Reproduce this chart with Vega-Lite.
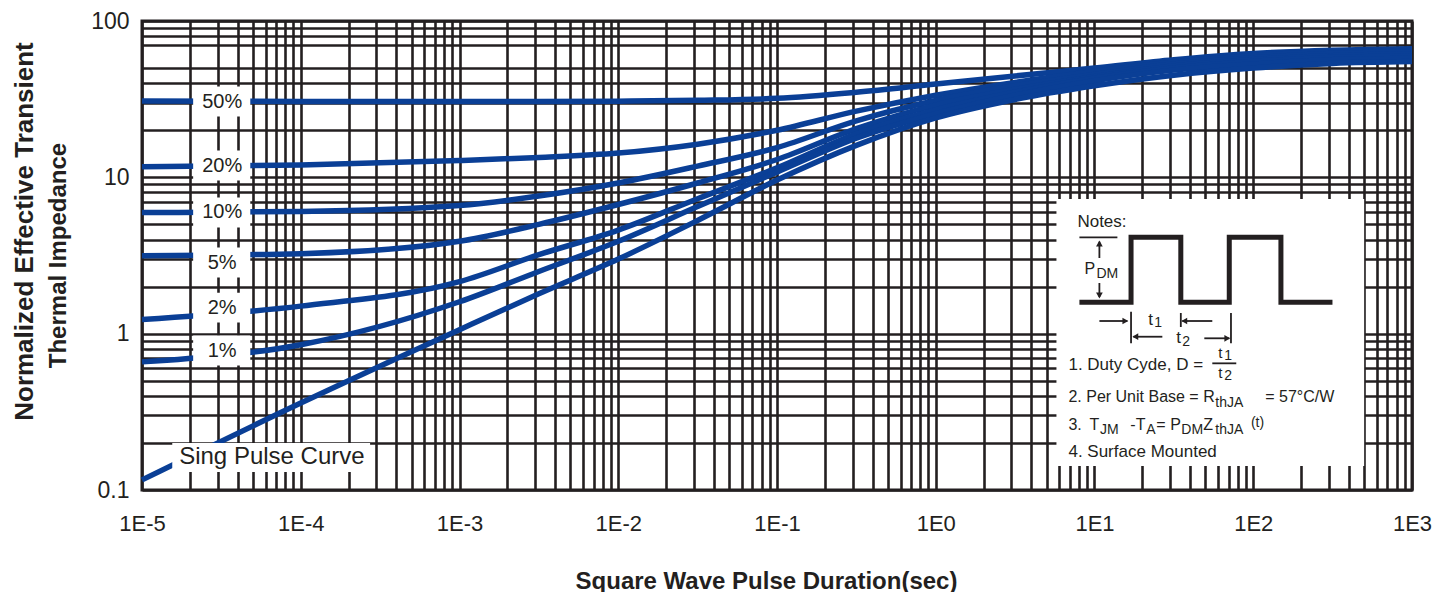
{
  "$schema": "https://vega.github.io/schema/vega-lite/v6.json",
  "width": 1270,
  "height": 469,
  "autosize": {"type": "none"},
  "padding": {"left": 142, "top": 21, "right": 20, "bottom": 102},
  "background": "white",
  "config": {
    "view": {"stroke": "#231f20", "strokeWidth": 3},
    "font": "Liberation Sans",
    "text": {"font": "Liberation Sans", "color": "#231f20"}
  },
  "title": {
    "text": "Normalized Effective Transient",
    "orient": "left",
    "anchor": "middle",
    "font": "Liberation Sans",
    "fontSize": 26,
    "fontWeight": "bold",
    "color": "#231f20",
    "offset": 8,
    "dx": 24
  },
  "datasets": {
    "curves": [
      {"series": "50%", "t": 0.00001, "z": 30.8}, {"series": "50%", "t": 0.0001, "z": 30.6}, {"series": "50%", "t": 0.001, "z": 30.5}, {"series": "50%", "t": 0.00316, "z": 30.5}, {"series": "50%", "t": 0.01, "z": 30.7}, {"series": "50%", "t": 0.0316, "z": 31.1}, {"series": "50%", "t": 0.1, "z": 32.0}, {"series": "50%", "t": 0.316, "z": 35.0}, {"series": "50%", "t": 1, "z": 39.5}, {"series": "50%", "t": 3.16, "z": 44.5}, {"series": "50%", "t": 10, "z": 50.0}, {"series": "50%", "t": 31.6, "z": 56.5}, {"series": "50%", "t": 100, "z": 62.0}, {"series": "50%", "t": 316, "z": 65.0}, {"series": "50%", "t": 1000, "z": 66.5},
      {"series": "20%", "t": 0.00001, "z": 11.7}, {"series": "20%", "t": 0.0001, "z": 12.0}, {"series": "20%", "t": 0.001, "z": 12.8}, {"series": "20%", "t": 0.00316, "z": 13.4}, {"series": "20%", "t": 0.01, "z": 14.3}, {"series": "20%", "t": 0.0316, "z": 16.3}, {"series": "20%", "t": 0.1, "z": 20.0}, {"series": "20%", "t": 0.316, "z": 26.5}, {"series": "20%", "t": 1, "z": 33.5}, {"series": "20%", "t": 3.16, "z": 40.5}, {"series": "20%", "t": 10, "z": 47.5}, {"series": "20%", "t": 31.6, "z": 54.5}, {"series": "20%", "t": 100, "z": 60.0}, {"series": "20%", "t": 316, "z": 63.5}, {"series": "20%", "t": 1000, "z": 64.5},
      {"series": "10%", "t": 0.00001, "z": 5.95}, {"series": "10%", "t": 0.0001, "z": 6.05}, {"series": "10%", "t": 0.001, "z": 6.6}, {"series": "10%", "t": 0.00316, "z": 7.6}, {"series": "10%", "t": 0.01, "z": 9.2}, {"series": "10%", "t": 0.0316, "z": 11.8}, {"series": "10%", "t": 0.1, "z": 15.5}, {"series": "10%", "t": 0.316, "z": 23.0}, {"series": "10%", "t": 1, "z": 31.0}, {"series": "10%", "t": 3.16, "z": 38.5}, {"series": "10%", "t": 10, "z": 45.5}, {"series": "10%", "t": 31.6, "z": 53.0}, {"series": "10%", "t": 100, "z": 58.0}, {"series": "10%", "t": 316, "z": 62.0}, {"series": "10%", "t": 1000, "z": 63.0},
      {"series": "5%", "t": 0.00001, "z": 3.15}, {"series": "5%", "t": 0.0001, "z": 3.25}, {"series": "5%", "t": 0.001, "z": 3.9}, {"series": "5%", "t": 0.00316, "z": 5.0}, {"series": "5%", "t": 0.01, "z": 6.7}, {"series": "5%", "t": 0.0316, "z": 9.2}, {"series": "5%", "t": 0.1, "z": 13.0}, {"series": "5%", "t": 0.316, "z": 20.5}, {"series": "5%", "t": 1, "z": 29.0}, {"series": "5%", "t": 3.16, "z": 36.5}, {"series": "5%", "t": 10, "z": 44.0}, {"series": "5%", "t": 31.6, "z": 51.5}, {"series": "5%", "t": 100, "z": 56.5}, {"series": "5%", "t": 316, "z": 60.0}, {"series": "5%", "t": 1000, "z": 61.5},
      {"series": "2%", "t": 0.00001, "z": 1.23}, {"series": "2%", "t": 0.0001, "z": 1.5}, {"series": "2%", "t": 0.001, "z": 2.15}, {"series": "2%", "t": 0.00316, "z": 3.2}, {"series": "2%", "t": 0.01, "z": 4.6}, {"series": "2%", "t": 0.0316, "z": 7.3}, {"series": "2%", "t": 0.1, "z": 11.5}, {"series": "2%", "t": 0.316, "z": 19.0}, {"series": "2%", "t": 1, "z": 27.0}, {"series": "2%", "t": 3.16, "z": 35.0}, {"series": "2%", "t": 10, "z": 43.0}, {"series": "2%", "t": 31.6, "z": 50.0}, {"series": "2%", "t": 100, "z": 55.0}, {"series": "2%", "t": 316, "z": 58.5}, {"series": "2%", "t": 1000, "z": 59.5},
      {"series": "1%", "t": 0.00001, "z": 0.66}, {"series": "1%", "t": 0.0001, "z": 0.85}, {"series": "1%", "t": 0.001, "z": 1.6}, {"series": "1%", "t": 0.00316, "z": 2.5}, {"series": "1%", "t": 0.01, "z": 3.9}, {"series": "1%", "t": 0.0316, "z": 6.5}, {"series": "1%", "t": 0.1, "z": 10.8}, {"series": "1%", "t": 0.316, "z": 17.8}, {"series": "1%", "t": 1, "z": 25.5}, {"series": "1%", "t": 3.16, "z": 33.5}, {"series": "1%", "t": 10, "z": 41.5}, {"series": "1%", "t": 31.6, "z": 48.5}, {"series": "1%", "t": 100, "z": 53.0}, {"series": "1%", "t": 316, "z": 56.5}, {"series": "1%", "t": 1000, "z": 57.5},
      {"series": "single", "t": 0.00001, "z": 0.116}, {"series": "single", "t": 0.0001, "z": 0.36}, {"series": "single", "t": 0.001, "z": 1.06}, {"series": "single", "t": 0.00316, "z": 1.8}, {"series": "single", "t": 0.01, "z": 3.0}, {"series": "single", "t": 0.0316, "z": 5.3}, {"series": "single", "t": 0.1, "z": 9.6}, {"series": "single", "t": 0.316, "z": 16.0}, {"series": "single", "t": 1, "z": 24.0}, {"series": "single", "t": 3.16, "z": 31.5}, {"series": "single", "t": 10, "z": 38.5}, {"series": "single", "t": 31.6, "z": 45.0}, {"series": "single", "t": 100, "z": 50.0}, {"series": "single", "t": 316, "z": 53.5}, {"series": "single", "t": 1000, "z": 55.0}
    ],
    "boxes": [
      {"t": 0.0000210, "t2": 0.0000481, "z": 38.1, "z2": 24.5},
      {"t": 0.0000210, "t2": 0.0000481, "z": 14.85, "z2": 9.54},
      {"t": 0.0000210, "t2": 0.0000481, "z": 7.43, "z2": 4.78},
      {"t": 0.0000210, "t2": 0.0000481, "z": 3.56, "z2": 2.29},
      {"t": 0.0000210, "t2": 0.0000481, "z": 1.83, "z2": 1.18},
      {"t": 0.0000210, "t2": 0.0000481, "z": 0.973, "z2": 0.626},
      {"t": 0.00001551, "t2": 0.0002734, "z": 0.1998, "z2": 0.1303},
      {"t": 5.758, "t2": 499.6, "z": 7.268, "z2": 0.1423}
    ],
    "labels": [
      {"txt": "50%", "t": 0.000032, "z": 30.55},
      {"txt": "20%", "t": 0.000032, "z": 11.9},
      {"txt": "10%", "t": 0.000032, "z": 5.96},
      {"txt": "5%", "t": 0.000032, "z": 2.85},
      {"txt": "2%", "t": 0.000032, "z": 1.47},
      {"txt": "1%", "t": 0.000032, "z": 0.78}
    ],
    "single": [
      {"txt": "Sing Pulse Curve", "t": 0.0000658, "z": 0.1626}
    ],
    "wave": [
      {"i": 0, "t": 8.035, "z": 1.587},
      {"i": 1, "t": 16.99, "z": 1.587},
      {"i": 2, "t": 16.99, "z": 4.134},
      {"i": 3, "t": 34.97, "z": 4.134},
      {"i": 4, "t": 34.97, "z": 1.587},
      {"i": 5, "t": 70.62, "z": 1.587},
      {"i": 6, "t": 70.62, "z": 4.134},
      {"i": 7, "t": 149.4, "z": 4.134},
      {"i": 8, "t": 149.4, "z": 1.587},
      {"i": 9, "t": 315.5, "z": 1.587}
    ],
    "rules": [
      {"t": 8.035, "t2": 13.937, "z": 4.134, "z2": 4.134},
      {"t": 10.736, "t2": 10.736, "z": 3.875, "z2": 3.048},
      {"t": 10.736, "t2": 10.736, "z": 2.109, "z2": 1.716},
      {"t": 16.99, "t2": 16.99, "z": 1.382, "z2": 0.868},
      {"t": 34.97, "t2": 34.97, "z": 1.356, "z2": 1.103},
      {"t": 72.39, "t2": 72.39, "z": 1.356, "z2": 0.868},
      {"t": 10.736, "t2": 16.106, "z": 1.205, "z2": 1.205},
      {"t": 35.74, "t2": 55.21, "z": 1.205, "z2": 1.205},
      {"t": 17.58, "t2": 26.75, "z": 0.956, "z2": 0.956},
      {"t": 49.17, "t2": 70.62, "z": 0.934, "z2": 0.934},
      {"t": 55.21, "t2": 78.17, "z": 0.646, "z2": 0.646}
    ],
    "heads": [
      {"dir": "up", "t": 10.736, "z": 3.774},
      {"dir": "down", "t": 10.736, "z": 1.754},
      {"dir": "right", "t": 15.646, "z": 1.205},
      {"dir": "left", "t": 36.79, "z": 1.205},
      {"dir": "left", "t": 18.09, "z": 0.956},
      {"dir": "right", "t": 68.61, "z": 0.934}
    ],
    "notes17": [
      {"txt": "Notes:", "t": 7.805, "z": 5.142},
      {"txt": "t", "t": 21.84, "z": 1.223},
      {"txt": "t", "t": 32.77, "z": 0.934},
      {"txt": "1. Duty Cyde, D =", "t": 6.851, "z": 0.630},
      {"txt": "4. Surface Mounted", "t": 6.851, "z": 0.1758}
    ],
    "notes": [
      {"txt": "P", "t": 8.638, "z": 2.592},
      {"txt": "2. Per Unit Base = R", "t": 6.851, "z": 0.395},
      {"txt": "= 57°C/W", "t": 119.0, "z": 0.395},
      {"txt": "3.", "t": 6.851, "z": 0.2604},
      {"txt": "T", "t": 9.288, "z": 0.2604},
      {"txt": "-T", "t": 16.82, "z": 0.2604},
      {"txt": "= P", "t": 24.52, "z": 0.2604},
      {"txt": "Z", "t": 48.46, "z": 0.2604}
    ],
    "fraction": [
      {"txt": "t", "t": 60.23, "z": 0.752},
      {"txt": "t", "t": 60.23, "z": 0.560}
    ],
    "subs": [
      {"txt": "DM", "t": 10.28, "z": 2.408},
      {"txt": "1", "t": 23.82, "z": 1.175},
      {"txt": "2", "t": 35.74, "z": 0.888},
      {"txt": "1", "t": 65.70, "z": 0.725},
      {"txt": "2", "t": 65.70, "z": 0.536},
      {"txt": "thJA", "t": 57.66, "z": 0.3585},
      {"txt": "JM", "t": 10.846, "z": 0.2419},
      {"txt": "A", "t": 21.21, "z": 0.2419},
      {"txt": "DM", "t": 35.23, "z": 0.2419},
      {"txt": "thJA", "t": 57.66, "z": 0.2419},
      {"txt": "(t)", "t": 96.72, "z": 0.267}
    ]
  },
  "layer": [
    {
      "data": {"name": "curves"},
      "mark": {"type": "line", "color": "#0a3f96", "strokeWidth": 5.5, "interpolate": "monotone", "strokeCap": "butt"},
      "encoding": {
        "x": {
          "field": "t", "type": "quantitative",
          "scale": {"type": "log", "domain": [0.00001, 1000], "nice": false},
          "axis": {
            "title": "Square Wave Pulse Duration(sec)",
            "titleFont": "Liberation Sans", "titleFontSize": 24, "titleFontWeight": "bold", "titleColor": "#231f20",
            "titleX": 624, "titleY": 98, "titleBaseline": "alphabetic", "titleAlign": "center", "titleAnchor": null,
            "values": [0.00001, 0.00002, 0.00003, 0.00004, 0.00005, 0.00006, 0.00007, 0.00008, 0.00009, 0.0001, 0.0002, 0.0003, 0.0004, 0.0005, 0.0006, 0.0007, 0.0008, 0.0009, 0.001, 0.002, 0.003, 0.004, 0.005, 0.006, 0.007, 0.008, 0.009, 0.01, 0.02, 0.03, 0.04, 0.05, 0.06, 0.07, 0.08, 0.09, 0.1, 0.2, 0.3, 0.4, 0.5, 0.6, 0.7, 0.8, 0.9, 1, 2, 3, 4, 5, 6, 7, 8, 9, 10, 20, 30, 40, 50, 60, 70, 80, 90, 100, 200, 300, 400, 500, 600, 700, 800, 900, 1000],
            "labelExpr": "abs(log(datum.value)/LN10 - round(log(datum.value)/LN10)) < 0.01 ? '1E' + round(log(datum.value)/LN10) : ''",
            "labelFont": "Liberation Sans", "labelFontSize": 22, "labelColor": "#231f20",
            "labelPadding": 23, "labelFlush": false, "labelOverlap": false, "labelBound": false,
            "ticks": false, "tickSize": 0, "domain": false,
            "grid": true, "gridColor": "#231f20", "gridWidth": 2.6, "gridOpacity": 1
          }
        },
        "y": {
          "field": "z", "type": "quantitative",
          "scale": {"type": "log", "domain": [0.1, 100], "nice": false},
          "axis": {
            "title": "Thermal Impedance",
            "titleFont": "Liberation Sans", "titleFontSize": 24, "titleFontWeight": "bold", "titleColor": "#231f20",
            "titleX": -84, "titleY": 234, "titleBaseline": "middle", "titleAlign": "center", "titleAnchor": null, "titleAngle": 270,
            "values": [0.1, 0.2, 0.3, 0.4, 0.5, 0.6, 0.7, 0.8, 0.9, 1, 2, 3, 4, 5, 6, 7, 8, 9, 10, 20, 30, 40, 50, 70, 80, 90, 100],
            "labelExpr": "abs(log(datum.value)/LN10 - round(log(datum.value)/LN10)) < 0.01 ? toString(datum.value) : ''",
            "labelFont": "Liberation Sans", "labelFontSize": 23, "labelColor": "#231f20",
            "labelPadding": 13, "labelFlush": false, "labelOverlap": false, "labelBound": false,
            "ticks": false, "tickSize": 0, "domain": false,
            "grid": true, "gridColor": "#231f20", "gridWidth": 2.6, "gridOpacity": 1
          }
        },
        "detail": {"field": "series", "type": "nominal"}
      }
    },
    {
      "data": {"name": "boxes"},
      "mark": {"type": "rect", "fill": "white", "stroke": null},
      "encoding": {
        "x": {"field": "t", "type": "quantitative"},
        "x2": {"field": "t2"},
        "y": {"field": "z", "type": "quantitative"},
        "y2": {"field": "z2"}
      }
    },
    {
      "data": {"name": "labels"},
      "mark": {"type": "text", "font": "Liberation Sans", "fontSize": 20, "align": "center", "baseline": "middle", "color": "#231f20"},
      "encoding": {
        "x": {"field": "t", "type": "quantitative"},
        "y": {"field": "z", "type": "quantitative"},
        "text": {"field": "txt"}
      }
    },
    {
      "data": {"name": "single"},
      "mark": {"type": "text", "font": "Liberation Sans", "fontSize": 24, "align": "center", "baseline": "middle", "color": "#231f20"},
      "encoding": {
        "x": {"field": "t", "type": "quantitative"},
        "y": {"field": "z", "type": "quantitative"},
        "text": {"field": "txt"}
      }
    },
    {
      "data": {"name": "wave"},
      "mark": {"type": "line", "color": "#231f20", "strokeWidth": 5, "strokeJoin": "miter", "strokeCap": "butt"},
      "encoding": {
        "x": {"field": "t", "type": "quantitative"},
        "y": {"field": "z", "type": "quantitative"},
        "order": {"field": "i", "type": "quantitative"}
      }
    },
    {
      "data": {"name": "rules"},
      "mark": {"type": "rule", "color": "#231f20", "strokeWidth": 1.8},
      "encoding": {
        "x": {"field": "t", "type": "quantitative"},
        "x2": {"field": "t2"},
        "y": {"field": "z", "type": "quantitative"},
        "y2": {"field": "z2"}
      }
    },
    {
      "data": {"name": "heads"},
      "mark": {"type": "point", "filled": true, "color": "#231f20", "size": 45, "opacity": 1},
      "encoding": {
        "x": {"field": "t", "type": "quantitative"},
        "y": {"field": "z", "type": "quantitative"},
        "shape": {"field": "dir", "type": "nominal", "legend": null, "scale": {"domain": ["up", "down", "left", "right"], "range": ["triangle-up", "triangle-down", "triangle-left", "triangle-right"]}}
      }
    },
    {
      "data": {"name": "notes17"},
      "mark": {"type": "text", "font": "Liberation Sans", "fontSize": 17, "align": "left", "baseline": "middle", "color": "#231f20"},
      "encoding": {
        "x": {"field": "t", "type": "quantitative"},
        "y": {"field": "z", "type": "quantitative"},
        "text": {"field": "txt"}
      }
    },
    {
      "data": {"name": "notes"},
      "mark": {"type": "text", "font": "Liberation Sans", "fontSize": 16, "align": "left", "baseline": "middle", "color": "#231f20"},
      "encoding": {
        "x": {"field": "t", "type": "quantitative"},
        "y": {"field": "z", "type": "quantitative"},
        "text": {"field": "txt"}
      }
    },
    {
      "data": {"name": "fraction"},
      "mark": {"type": "text", "font": "Liberation Sans", "fontSize": 15, "align": "left", "baseline": "middle", "color": "#231f20"},
      "encoding": {
        "x": {"field": "t", "type": "quantitative"},
        "y": {"field": "z", "type": "quantitative"},
        "text": {"field": "txt"}
      }
    },
    {
      "data": {"name": "subs"},
      "mark": {"type": "text", "font": "Liberation Sans", "fontSize": 14, "align": "left", "baseline": "middle", "color": "#231f20"},
      "encoding": {
        "x": {"field": "t", "type": "quantitative"},
        "y": {"field": "z", "type": "quantitative"},
        "text": {"field": "txt"}
      }
    }
  ]
}
